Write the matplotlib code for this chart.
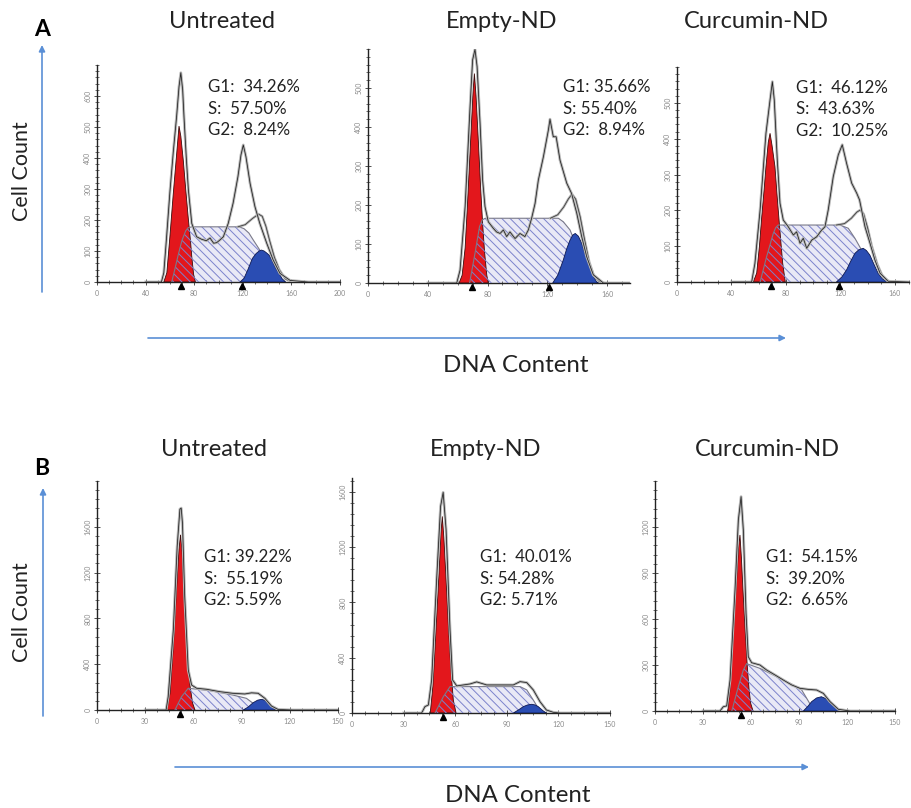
import matplotlib
matplotlib.use("Agg")
import matplotlib.pyplot as plt
from matplotlib.ticker import MultipleLocator, FixedLocator
from matplotlib.patches import FancyArrowPatch
import matplotlib.transforms as mtransforms

plt.rcParams['font.family'] = ['Lato', 'DejaVu Sans']
plt.rcParams['hatch.linewidth'] = 0.7

W, H = 911, 808

# ---------------------------------------------------------------- data
TITLES = ["Untreated", "Empty-ND", "Curcumin-ND"]
SECTION_LABELS = ["A", "B"]
X_LABEL = "DNA Content"
Y_LABEL = "Cell Count"

STATS_A1 = ["G1:  34.26%", "S:  57.50%", "G2:  8.24%"]
STATS_A2 = ["G1: 35.66%", "S: 55.40%", "G2:  8.94%"]
STATS_A3 = ["G1:  46.12%", "S:  43.63%", "G2:  10.25%"]
STATS_B1 = ["G1: 39.22%", "S:  55.19%", "G2: 5.59%"]
STATS_B2 = ["G1:  40.01%", "S: 54.28%", "G2: 5.71%"]
STATS_B3 = ["G1:  54.15%", "S:  39.20%", "G2:  6.65%"]

# --- Panel A1 (Untreated)
A1_G1_X = [55, 57.5, 60, 62.8, 65.5, 67.5, 69, 71, 73, 75, 77, 78, 79.5, 81]
A1_G1_Y = [0, 30, 146, 286, 410, 503, 470, 393, 300, 211, 130, 82, 25, 0]
A1_S_X = [61.5, 64, 67, 70, 73, 75, 78, 117, 121, 125, 128.7, 134, 139, 145, 149, 153]
A1_S_Y = [0, 40, 90, 135, 165, 175, 178, 178, 172, 158, 135, 103, 65, 39, 12, 0]
A1_G2_X = [117.7, 121, 124, 127.9, 131, 133.5, 135.4, 137.5, 139.5, 141.6, 144, 147, 149.8, 152.5, 155.3]
A1_G2_Y = [0, 12, 38, 76, 92, 100, 103, 100, 94, 87, 70, 45, 28, 10, 0]
A1_HIST_X = [40, 53, 55, 57.3, 60, 62.8, 65.5, 67.5, 69, 70.5, 71.6, 73.5, 75.2, 78, 82, 86,
             90, 93, 96, 98.5, 101, 104, 108, 112, 116, 118.5, 120.4, 122.6, 126, 130, 134,
             139.7, 145, 150.6, 159, 174, 200]
A1_HIST_Y = [0, 0, 30, 146, 290, 420, 533, 630, 675, 620, 533, 400, 297, 189, 146, 138,
             133, 142, 125, 127, 135, 146, 189, 254, 340, 410, 442, 404, 318, 243, 189,
             125, 71, 28, 5, 0, 0]
A1_FIT_X = [116, 122, 128, 133, 136, 139, 142, 146, 150, 155, 160]
A1_FIT_Y = [178, 185, 205, 219, 212, 180, 135, 80, 40, 10, 0]
A1_MARKS = [69, 119.6]

# --- Panel A2 (Empty-ND)
A2_G1_X = [61, 63, 65, 66.5, 68.7, 70.3, 71.2, 72.3, 73.8, 75.3, 76.7, 78, 79.5, 80.5]
A2_G1_Y = [0, 20, 90, 196, 367, 490, 537, 480, 367, 250, 153, 80, 20, 0]
A2_S_X = [68, 71.6, 74.6, 76.5, 78.5, 127.4, 130.7, 135.2, 139.7, 144, 149.7, 152]
A2_S_Y = [0, 76, 144, 162, 166, 166, 157, 136, 93, 42, 3, 0]
A2_G2_X = [123.6, 127, 130.7, 133, 135.2, 137, 138.7, 140.8, 143, 145.3, 147.5, 150.5, 153, 155]
A2_G2_Y = [0, 20, 59, 88, 110, 123, 127, 120, 102, 75, 50, 20, 3, 0]
A2_HIST_X = [40, 59.4, 61.6, 65, 68.3, 70, 71.6, 73, 75, 76.7, 78.3, 80.5, 83.9, 86, 88.4,
             90.6, 92.8, 95, 98.4, 101.7, 105, 107.3, 109.5, 111.8, 114, 117.4, 120.7, 121.8,
             124, 125.9, 128.5, 133, 136.2, 139.7, 143, 146.4, 150.8, 157.5, 175]
A2_HIST_Y = [0, 0, 33, 196, 452, 572, 599, 555, 409, 264, 196, 157, 140, 131, 127,
             136, 119, 131, 114, 127, 119, 136, 166, 204, 264, 324, 392, 420,
             375, 375, 315, 256, 230, 179, 119, 67, 21, 0, 0]
A2_FIT_X = [122, 127, 131, 134, 136.5, 139, 142, 145, 148, 151, 155, 158]
A2_FIT_Y = [166, 175, 195, 215, 228, 215, 170, 110, 55, 20, 3, 0]
A2_MARKS = [69.6, 121]

# --- Panel A3 (Curcumin-ND)
A3_G1_X = [56, 58.5, 60.5, 62.2, 64, 65.3, 67, 68.3, 69.8, 71.9, 73.5, 75.1, 76.5, 77.6, 79.5]
A3_G1_Y = [0, 25, 100, 182, 260, 322, 390, 415, 380, 322, 240, 164, 100, 52, 0]
A3_S_X = [61, 65.8, 70.7, 72.5, 74.3, 119.6, 125.7, 130.6, 135.5, 141.6, 147.7, 152.7]
A3_S_Y = [0, 71, 136, 152, 159, 159, 150, 122, 89, 43, 9, 0]
A3_G2_X = [117, 121, 124.5, 127.5, 130.6, 133.5, 136.7, 139, 141.6, 144.5, 147.7, 151, 155]
A3_G2_Y = [0, 14, 34, 58, 80, 90, 94, 88, 75, 50, 24, 8, 0]
A3_HIST_X = [40, 54.8, 57.2, 61, 65.3, 68.3, 70, 71.4, 73.6, 75.6, 78, 81.7, 85.4, 87.8,
             90.3, 92.7, 95.2, 98.9, 102.5, 106.2, 108.6, 111, 114.7, 118.4, 121.3, 124.5,
             128.2, 131.9, 134, 138, 141.6, 145.3, 149, 155, 170]
A3_HIST_Y = [0, 0, 52, 201, 415, 508, 559, 508, 341, 220, 173, 154, 131, 140,
             108, 122, 94, 117, 126, 145, 154, 201, 294, 355, 383, 331,
             276, 248, 229, 154, 109, 61, 25, 2, 0]
A3_FIT_X = [117, 123, 128, 132, 134.5, 137, 140, 143, 147, 151, 155, 158]
A3_FIT_Y = [159, 163, 178, 195, 201, 190, 150, 100, 50, 15, 3, 0]
A3_MARKS = [69, 119]

# --- Panel B1 (Untreated)
B1_G1_X = [43.5, 45.5, 47.5, 49.5, 51, 52, 53, 54.1, 55.5, 56.8, 58, 59.5, 61]
B1_G1_Y = [0, 150, 553, 1049, 1400, 1530, 1380, 990, 680, 408, 200, 60, 0]
B1_S_X = [48.5, 52.6, 56.8, 70.3, 84.4, 93, 97.2, 101.4, 103.5]
B1_S_Y = [0, 116, 190, 169, 131, 102, 58, 15, 0]
B1_G2_X = [91, 94, 97.2, 100, 102.4, 104.5, 106.5, 108.7, 110.7, 112.7]
B1_G2_Y = [0, 25, 64, 86, 93, 85, 58, 28, 6, 0]
B1_HIST_X = [30, 43, 44.3, 47.5, 49.9, 51.6, 52.4, 53.2, 54.6, 56.8, 58.9, 62, 68.2, 76.5,
             84.4, 92, 96.2, 100.3, 104.5, 108.6, 112.7, 122, 150]
B1_HIST_Y = [0, 0, 116, 699, 1427, 1754, 1763, 1632, 990, 350, 218, 190, 181, 160,
             146, 140, 150, 146, 102, 35, 5, 0, 0]
B1_MARKS = [51.8]

# --- Panel B2 (Empty-ND)
B2_G1_X = [45.5, 47, 48.3, 49.5, 50.6, 51.7, 52.5, 53.4, 54.7, 56, 57.4, 58.9, 60.5]
B2_G1_Y = [0, 190, 480, 760, 1012, 1300, 1422, 1270, 964, 640, 336, 94, 0]
B2_S_X = [48.3, 53.1, 57, 97.7, 101.6, 105.4, 108.3, 111.2]
B2_S_Y = [0, 118, 191, 191, 167, 94, 34, 0]
B2_G2_X = [93.8, 96.5, 99.6, 102, 104.5, 106.5, 108.3, 111.2, 113]
B2_G2_Y = [0, 20, 46, 58, 63, 58, 46, 15, 0]
B2_HIST_X = [30, 40.5, 42.4, 44.4, 46.3, 49.2, 51.5, 53, 54.7, 57, 58.5, 60.9, 68.6, 72.5,
             78.3, 86, 93.8, 97.7, 101.6, 105.4, 109.3, 113, 117, 121, 150]
B2_HIST_Y = [0, 0, 46, 58, 239, 964, 1495, 1596, 1326, 601, 239, 196, 210, 225,
             203, 203, 203, 227, 220, 167, 82, 22, 5, 0, 0]
B2_MARKS = [52.7]

# --- Panel B3 (Curcumin-ND)
B3_G1_X = [45.5, 47, 48.5, 50, 51, 52.2, 53.1, 54, 55.2, 56.5, 57.7, 58.8, 59.8, 61.3]
B3_G1_Y = [0, 160, 419, 690, 855, 1060, 1148, 1000, 746, 500, 289, 140, 50, 0]
B3_S_X = [48, 52.1, 55.2, 57.3, 65.6, 76, 86.5, 91.7, 94.8, 97.9, 100]
B3_S_Y = [0, 159, 267, 309, 278, 224, 170, 137, 83, 28, 0]
B3_G2_X = [92.7, 95.5, 97.9, 101, 104, 107, 109.4, 111.5, 113.5, 115.6]
B3_G2_Y = [0, 30, 61, 85, 93, 80, 54, 33, 17, 0]
B3_HIST_X = [30, 40.6, 42.7, 44.8, 46.9, 50, 52.1, 53.8, 55.2, 56.9, 58.3, 60.4, 65.6, 69.8,
             75, 80.2, 85.4, 90.6, 95.8, 101, 105.2, 109.4, 114.6, 121.9, 150]
B3_HIST_Y = [0, 0, 28, 33, 202, 789, 1246, 1398, 1181, 637, 354, 315, 300, 267,
             235, 202, 170, 148, 141, 137, 115, 61, 11, 0, 0]
B3_MARKS = [53.8]

# --- axis ticks
A1_XTICKS = [0, 40, 80, 120, 160, 200]
A1_YTICKS = [0, 100, 200, 300, 400, 500, 600]
A23_XTICKS = [0, 40, 80, 120, 160]
A23_YTICKS = [0, 100, 200, 300, 400, 500]
B_XTICKS = [0, 30, 60, 90, 120, 150]
B12_YTICKS = [0, 400, 800, 1200, 1600]
B3_YTICKS = [0, 300, 600, 900, 1200]

# ---------------------------------------------------------------- style
RED = '#e3171c'
BLUE = '#2a4db3'
S_FACE = '#e9e9f6'
S_HATCH = '#7c82cc'
ARROW = '#5a8fd6'
TXT = '#222222'

fig = plt.figure(figsize=(W / 100, H / 100), dpi=100)
fig.patch.set_facecolor('white')


def fx(px):
    return px / W


def fy(py):
    return 1 - py / H


def add_axes(left, right, top, bottom):
    return fig.add_axes([fx(left), fy(bottom), (right - left) / W, (bottom - top) / H])


def draw_panel(box, lims, g1, s, g2, hist, fit, marks, xticks, yticks, xminor, yminor):
    ax = add_axes(*box)
    ax.set_facecolor('none')
    ax.fill(s[0], s[1], facecolor=S_FACE, edgecolor='none', zorder=1)
    ax.fill(g1[0], g1[1], facecolor=RED, edgecolor='#3a0c0c', lw=0.6, zorder=2)
    ax.fill(s[0], s[1], facecolor='none', edgecolor=S_HATCH, hatch='\\\\\\\\', lw=0, zorder=3)
    ax.plot(s[0], s[1], color='#7a7a8a', lw=0.8, zorder=3.5)
    ax.fill(g2[0], g2[1], facecolor=BLUE, edgecolor='#0e1850', lw=0.6, zorder=4)
    if fit is not None:
        ax.plot(fit[0], fit[1], color='#b5b5b5', lw=1.8, zorder=4.5)
        ax.plot(fit[0], fit[1], color='#303030', lw=0.5, zorder=4.6)
    ax.plot(hist[0], hist[1], color='#b8b8b8', lw=2.0, zorder=5, solid_joinstyle='round')
    ax.plot(hist[0], hist[1], color='#1e1e1e', lw=0.55, zorder=6)
    trans = mtransforms.offset_copy(ax.get_xaxis_transform(), fig=fig, y=-4, units='dots')
    ax.plot(marks, [0] * len(marks), marker='^', ls='none', color='black', ms=5,
            transform=trans, clip_on=False, zorder=7)
    ax.set_xlim(0, lims[0])
    ax.set_ylim(0, lims[1])
    for sp in ['top', 'right']:
        ax.spines[sp].set_visible(False)
    for sp in ['left', 'bottom']:
        ax.spines[sp].set_linewidth(1.0)
        ax.spines[sp].set_color('#222222')
    ax.xaxis.set_major_locator(FixedLocator(xticks))
    ax.yaxis.set_major_locator(FixedLocator(yticks))
    ax.xaxis.set_minor_locator(MultipleLocator(xminor))
    ax.yaxis.set_minor_locator(MultipleLocator(yminor))
    ax.tick_params(which='major', direction='inout', length=4, width=0.6,
                   labelsize=5, labelcolor='#8a8a8a', color='#333333', pad=4)
    ax.tick_params(which='minor', direction='inout', length=2.5, width=0.5, color='#333333')
    ax.tick_params(axis='y', labelrotation=90, pad=2)
    for lab in ax.get_yticklabels():
        lab.set_va('center')
    return ax


draw_panel((97, 340, 65, 282), (200, 700),
           (A1_G1_X, A1_G1_Y), (A1_S_X, A1_S_Y), (A1_G2_X, A1_G2_Y),
           (A1_HIST_X, A1_HIST_Y), (A1_FIT_X, A1_FIT_Y), A1_MARKS,
           A1_XTICKS, A1_YTICKS, 10, 20)
draw_panel((368, 629.5, 49, 283), (175, 600),
           (A2_G1_X, A2_G1_Y), (A2_S_X, A2_S_Y), (A2_G2_X, A2_G2_Y),
           (A2_HIST_X, A2_HIST_Y), (A2_FIT_X, A2_FIT_Y), A2_MARKS,
           A23_XTICKS, A23_YTICKS, 10, 20)
draw_panel((677, 908.6, 67, 282), (170, 600),
           (A3_G1_X, A3_G1_Y), (A3_S_X, A3_S_Y), (A3_G2_X, A3_G2_Y),
           (A3_HIST_X, A3_HIST_Y), (A3_FIT_X, A3_FIT_Y), A3_MARKS,
           A23_XTICKS, A23_YTICKS, 10, 20)
draw_panel((97, 338, 481, 710), (150, 2000),
           (B1_G1_X, B1_G1_Y), (B1_S_X, B1_S_Y), (B1_G2_X, B1_G2_Y),
           (B1_HIST_X, B1_HIST_Y), None, B1_MARKS,
           B_XTICKS, B12_YTICKS, 7.5, 80)
draw_panel((352, 610, 478, 713), (150, 1700),
           (B2_G1_X, B2_G1_Y), (B2_S_X, B2_S_Y), (B2_G2_X, B2_G2_Y),
           (B2_HIST_X, B2_HIST_Y), None, B2_MARKS,
           B_XTICKS, B12_YTICKS, 7.5, 80)
draw_panel((655, 895, 481, 711), (150, 1500),
           (B3_G1_X, B3_G1_Y), (B3_S_X, B3_S_Y), (B3_G2_X, B3_G2_Y),
           (B3_HIST_X, B3_HIST_Y), None, B3_MARKS,
           B_XTICKS, B3_YTICKS, 7.5, 60)

# ---------------------------------------------------------------- texts
STAT_FS = 12.2
LINE_DY = 21.5


def stats(lines, left, top_center):
    for i, t in enumerate(lines):
        fig.text(fx(left), fy(top_center + i * LINE_DY), t, fontsize=STAT_FS,
                 color=TXT, ha='left', va='center')


stats(STATS_A1, 208, 87)
stats(STATS_A2, 563, 87)
stats(STATS_A3, 796, 88)
stats(STATS_B1, 204, 557)
stats(STATS_B2, 480, 557)
stats(STATS_B3, 766, 557)

TITLE_FS = 17
for t, x in zip(TITLES, [222, 502, 756]):
    fig.text(fx(x), fy(22), t, fontsize=TITLE_FS, color=TXT, ha='center', va='center')
for t, x in zip(TITLES, [214, 486, 767]):
    fig.text(fx(x), fy(449), t, fontsize=TITLE_FS, color=TXT, ha='center', va='center')

fig.text(fx(42), fy(30), SECTION_LABELS[0], fontsize=16.5, fontweight='bold',
         color='black', ha='center', va='center')
fig.text(fx(42), fy(469), SECTION_LABELS[1], fontsize=16.5, fontweight='bold',
         color='black', ha='center', va='center')

for yc in [171, 612]:
    fig.text(fx(22), fy(yc), Y_LABEL, rotation=90, fontsize=15.5, color=TXT,
             ha='center', va='center')
fig.text(fx(516), fy(365), X_LABEL, fontsize=17.3, color=TXT, ha='center', va='center')
fig.text(fx(518), fy(795), X_LABEL, fontsize=17.3, color=TXT, ha='center', va='center')


def arrow(p0, p1):
    a = FancyArrowPatch((fx(p0[0]), fy(p0[1])), (fx(p1[0]), fy(p1[1])),
                        transform=fig.transFigure, arrowstyle='-|>', mutation_scale=9,
                        lw=1.2, color=ARROW, shrinkA=0, shrinkB=0)
    fig.add_artist(a)


arrow((42, 292), (42, 45))
arrow((43, 716), (43, 488))
arrow((148, 338), (786, 338))
arrow((175, 767), (809, 767))

fig.savefig('out.png', dpi=100)
